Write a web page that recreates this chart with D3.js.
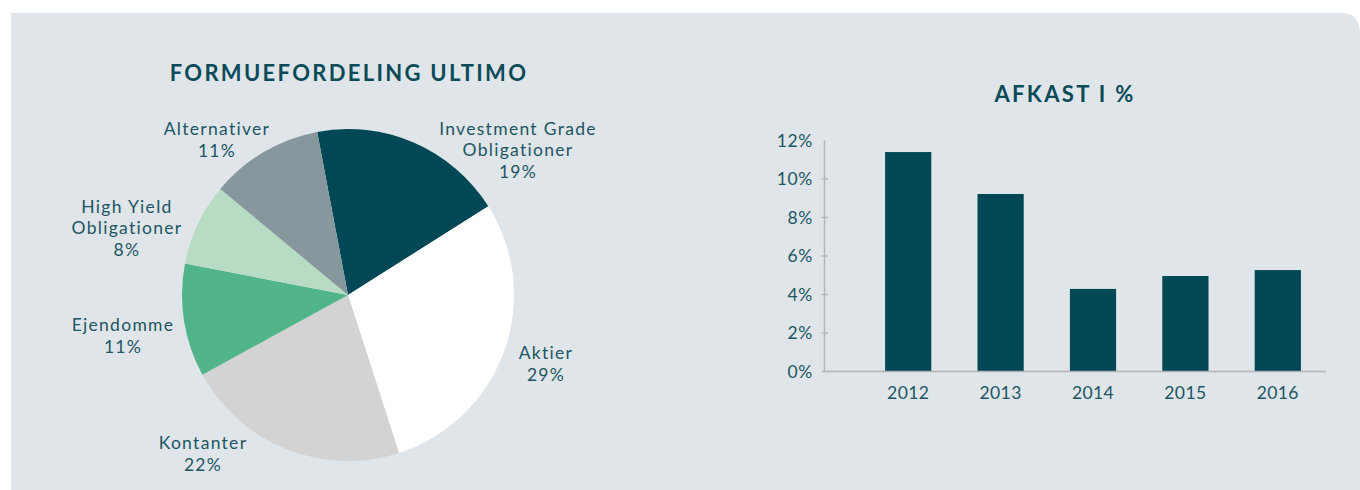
<!DOCTYPE html>
<html>
<head>
<meta charset="utf-8">
<script src="https://cdn.jsdelivr.net/npm/d3@7"></script>
<style>
  html, body { margin: 0; padding: 0; background: #ffffff; }
  svg { display: block; }
  text { font-family: Lato, "Open Sans", sans-serif; }
</style>
</head>
<body>
<div id="chart"></div>
<script>
// formuefordeling (pie)
var assetNames = [["Investment Grade", "Obligationer"], ["Aktier"], ["Kontanter"], ["Ejendomme"], ["High Yield", "Obligationer"], ["Alternativer"]];
var assetShares = [19, 29, 22, 11, 8, 11];
var assetColors = ["#004855", "#ffffff", "#d3d3d3", "#52b589", "#b8dbc3", "#86989d"];

// afkast i % (bars)
var years = ["2012", "2013", "2014", "2015", "2016"];
var returns = [11.4, 9.22, 4.29, 4.96, 5.27];
var yTicks = [0, 2, 4, 6, 8, 10, 12];

var W = 1360, H = 490;
var textColor = "#1d5663";
var titleColor = "#0b4a57";

var svg = d3.select("#chart").append("svg")
    .attr("width", W)
    .attr("height", H);

// panel with rounded top-right corner
svg.append("path")
    .attr("d", "M11,13 H1340 Q1360,13 1360,33 V490 H11 Z")
    .attr("fill", "#dfe5e8");

//---------------- pie ----------------
var cx = 348, cy = 295, r = 166;
svg.append("text")
    .attr("x", cx + 1)
    .attr("y", 81)
    .attr("text-anchor", "middle")
    .attr("fill", titleColor)
    .style("font-size", "22px")
    .style("font-weight", "bold")
    .style("letter-spacing", "2.3px")
    .text("FORMUEFORDELING ULTIMO");

var pie = d3.pie().sort(null).value(d => d)
    .startAngle(-10.7 * Math.PI / 180)
    .endAngle(-10.7 * Math.PI / 180 + 2 * Math.PI);
var arcs = pie(assetShares);
var arc = d3.arc().innerRadius(0).outerRadius(r);

var pieG = svg.append("g").attr("transform", "translate(" + cx + "," + cy + ")");
pieG.selectAll("path")
    .data(arcs)
    .enter()
    .append("path")
    .attr("d", arc)
    .attr("fill", (d, i) => assetColors[i]);

// label anchor points (centre of text block, relative to pie centre)
var labelPos = [[170, -145], [198, 69], [-145, 159], [-225, 41], [-221, -67], [-131, -155]];
var lineH = 21.5;
arcs.forEach(function (d, i) {
    var lines = assetNames[i].concat([assetShares[i] + "%"]);
    var startY = cy + labelPos[i][1] - (lines.length - 1) * lineH / 2 + 6;
    var t = svg.append("text")
        .attr("text-anchor", "middle")
        .attr("fill", textColor)
        .style("font-size", "17.5px")
        .style("letter-spacing", "1.3px");
    lines.forEach(function (s, j) {
        t.append("tspan")
            .attr("x", cx + labelPos[i][0])
            .attr("y", startY + j * lineH)
            .text(s);
    });
});

//---------------- bars ----------------
svg.append("text")
    .attr("x", 1065)
    .attr("y", 102)
    .attr("text-anchor", "middle")
    .attr("fill", titleColor)
    .style("font-size", "22px")
    .style("font-weight", "bold")
    .style("letter-spacing", "2.3px")
    .text("AFKAST I %");

var x = d3.scaleBand().domain(years).range([862, 1324]).paddingInner(0.5).paddingOuter(0.25);
var y = d3.scaleLinear().domain([0, 12]).range([371.5, 140.5]);

var axisColor = "#b3b5b6";
// y axis
svg.append("line")
    .attr("x1", 824.5).attr("x2", 824.5)
    .attr("y1", y(12)).attr("y2", y(0))
    .attr("stroke", axisColor).attr("stroke-width", 1.5);
svg.selectAll(".ytick")
    .data(yTicks.slice(1, -1))
    .enter()
    .append("line")
    .attr("x1", 821).attr("x2", 828)
    .attr("y1", d => y(d)).attr("y2", d => y(d))
    .attr("stroke", axisColor).attr("stroke-width", 1.2);
svg.selectAll(".ylab")
    .data(yTicks)
    .enter()
    .append("text")
    .attr("x", 813)
    .attr("y", d => y(d) + 6)
    .attr("text-anchor", "end")
    .attr("fill", textColor)
    .style("font-size", "17.5px")
    .style("letter-spacing", "0.6px")
    .text(d => d + "%");

svg.selectAll(".bar")
    .data(returns)
    .enter()
    .append("rect")
    .attr("x", (d, i) => x(years[i]))
    .attr("width", x.bandwidth())
    .attr("y", d => y(d))
    .attr("height", d => y(0) - y(d))
    .attr("fill", "#004855");

// x axis
svg.append("line")
    .attr("x1", 822).attr("x2", 1326)
    .attr("y1", y(0)).attr("y2", y(0))
    .attr("stroke", axisColor).attr("stroke-width", 1.5);
svg.selectAll(".xlab")
    .data(years)
    .enter()
    .append("text")
    .attr("x", d => x(d) + x.bandwidth() / 2)
    .attr("y", 399)
    .attr("text-anchor", "middle")
    .attr("fill", textColor)
    .style("font-size", "17.5px")
    .style("letter-spacing", "0.4px")
    .text(d => d);
</script>
</body>
</html>
